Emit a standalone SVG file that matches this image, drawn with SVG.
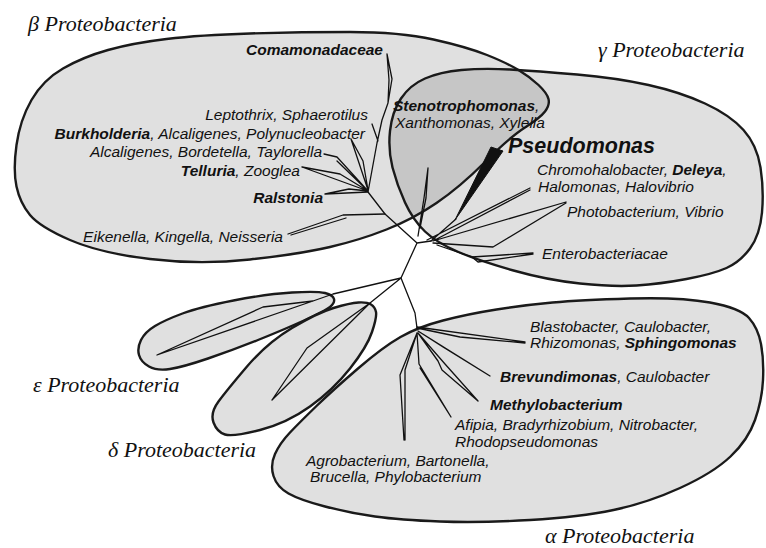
<svg xmlns="http://www.w3.org/2000/svg" width="766" height="548" viewBox="0 0 766 548">
<style>
.region{fill:#e0e0e0;stroke:#1a1a1a;stroke-width:2.4;stroke-linejoin:round}
.overlap{fill:#c6c6c6;stroke:none}
.edge{fill:none;stroke:#1a1a1a;stroke-width:2.4}
.br{fill:none;stroke:#111;stroke-width:1.3;stroke-linejoin:round;stroke-linecap:round}
.lab{font-family:"Liberation Sans",Arial,sans-serif;font-style:italic;font-size:15.5px;fill:#111}
.b{font-weight:bold}
.grp{font-family:"Liberation Serif","Times New Roman",serif;font-style:italic;font-size:22px;fill:#111}
</style>
<defs>
<path id="betaP" d="M 16.5,145 Q 20,120 31.5,100 Q 43,80 63,68.5 Q 83,57 108,50 Q 133,43 166.5,39 Q 200,35 250,33.5 Q 300,32 350,32 Q 400,32 433.5,39.5 Q 467,47 487,55 Q 507,63 518.5,70 Q 530,77 538.5,85 Q 547,93 548.5,99 Q 550,105 545,111.5 Q 540,118 525,127.5 Q 510,137 485,162 Q 460,187 436.5,203 Q 413,219 386.5,229.5 Q 360,240 330,247 Q 300,254 250,259.5 Q 200,265 150,259 Q 100,253 70,240 Q 40,227 30,215 Q 20,203 16.5,186.5 Q 13,170 16.5,145 Z"/>
<path id="gammaP" d="M 390,131 Q 392,112 401,98.5 Q 410,85 425,78.5 Q 440,72 461.5,70 Q 483,68 510,69.5 Q 537,71 577,74.5 Q 617,78 648.5,85 Q 680,92 705,103.5 Q 730,115 743.5,130 Q 757,145 760.5,167.5 Q 764,190 762,212.5 Q 760,235 750,248.5 Q 740,262 726.5,268 Q 713,274 686.5,279 Q 660,284 636.5,285.5 Q 613,287 580,283.5 Q 547,280 513.5,270.5 Q 480,261 458.5,252 Q 437,243 425,231.5 Q 413,220 405,202.5 Q 397,185 392.5,167.5 Q 388,150 390,131 Z"/>
<clipPath id="clipGamma"><use href="#gammaP"/></clipPath>
</defs>
<rect width="766" height="548" fill="#ffffff"/>

<g id="beta">
<use href="#betaP" class="region"/>
<text class="grp" x="28" y="31">β Proteobacteria</text>
</g>

<g id="gamma">
<use href="#gammaP" class="region" style="stroke:none"/>
<use href="#betaP" class="overlap" clip-path="url(#clipGamma)"/>
<use href="#gammaP" class="edge"/>
<use href="#betaP" class="edge" clip-path="url(#clipGamma)"/>
<text class="grp" x="598" y="57">γ Proteobacteria</text>
</g>

<g id="epsilon">
<path class="region" d="M 141,340 Q 145,332 155,326 Q 165,320 182.5,313.5 Q 200,307 233.5,300.5 Q 267,294 292,292.5 Q 317,291 325,293 Q 333,295 334,299 Q 335,303 330,307 Q 325,311 304,320.5 Q 283,330 258,340 Q 233,350 208,358.5 Q 183,367 170,369 Q 157,371 149,366.5 Q 141,362 139,355 Q 137,348 141,340 Z"/>
<text class="grp" x="33" y="392">ε Proteobacteria</text>
</g>

<g id="delta">
<path class="region" d="M 371,304.5 Q 375,307 376,312 Q 377,317 372,332 Q 367,347 350,368.5 Q 333,390 310,406.5 Q 287,423 260,430 Q 233,437 225,434.5 Q 217,432 213.5,422.5 Q 210,413 218.5,401.5 Q 227,390 247,366.5 Q 267,343 292,328 Q 317,313 333.5,308 Q 350,303 358.5,302.5 Q 367,302 371,304.5 Z"/>
<text class="grp" x="108" y="457">δ Proteobacteria</text>
</g>

<g id="alpha">
<path class="region" d="M 275,454 Q 280,443 290,432.5 Q 300,422 316.5,406 Q 333,390 358,368.5 Q 383,347 400.5,337 Q 418,327 443,320.5 Q 468,314 496.5,309.5 Q 525,305 552.5,302.5 Q 580,300 630,298.5 Q 680,297 710,302.5 Q 740,308 749,318 Q 758,328 761,344 Q 764,360 763,380 Q 762,400 755,420 Q 748,440 730.5,456.5 Q 713,473 680,488 Q 647,503 613.5,510 Q 580,517 530,520 Q 480,523 440,521.5 Q 400,520 375,516.5 Q 350,513 325,506.5 Q 300,500 288.5,493.5 Q 277,487 273.5,476 Q 270,465 275,454 Z"/>
<text class="grp" x="545" y="543">α Proteobacteria</text>
</g>

<g id="connectors">
<path class="br" d="M368,192 L385,214 L417,243 M417,243 L431,241 M417,243 L401,278 M401,278 L415,313 L417,328"/>
<path class="br" d="M368,192 L377,143 L382,120 L388,103 M387,54 L392,79 L388,103 M387,54 L389,80 L388,103 M372,124 L378,141 M351,139 L363,161 L368,190 M351,139 L368,190 M324,154 L337,157 L368,191 M337,161 L368,191 M302,167 L340,174 L368,191 M302,167 L368,191 M325,194 L349,189 L368,191 M325,194 L368,192 M288,234 L343,215 L385,214 M291,235 L346,218"/>
<path class="br" d="M428,168 L424,198 L418,236 M428,168 L426,198 L420,228 M431,241 L456,219 M427,240 L530,188 M433,241 L530,190 M433,241 L566,202 M433,243 L493,247 L566,203 M437,245 L472,257 L533,253 M472,257 L478,262 L533,254"/>
<polygon points="455,220 491,147 503,151" fill="#111" stroke="#111" stroke-width="1" stroke-linejoin="round"/>
<path class="br" d="M401,278 L333,294 L313,301 L263,307 L157,355 M313,301 L157,355 M401,278 L370,303 L307,348 L272,400 M370,303 L272,400"/>
<path class="br" d="M417,327 L525,342 M417,328 L460,337 L525,343 M418,331 L490,376 M418,331 L443,347 L490,376 M418,333 L438,361 L442,370 L478,401 M418,333 L445,364 L478,401 M417,333 L419,364 L451,417 M420,368 L451,417 M417,333 L400,375 L404,440 M417,333 L405,370 L405,440"/>
</g>

<g id="labels-beta" class="lab">
<text x="383" y="55" text-anchor="end" class="b">Comamonadaceae</text>
<text x="368" y="120" text-anchor="end">Leptothrix, Sphaerotilus</text>
<text x="365" y="139" text-anchor="end"><tspan class="b">Burkholderia</tspan>, Alcaligenes, Polynucleobacter</text>
<text x="322" y="157" text-anchor="end">Alcaligenes, Bordetella, Taylorella</text>
<text x="300" y="176" text-anchor="end"><tspan class="b">Telluria</tspan>, Zooglea</text>
<text x="323" y="203" text-anchor="end" class="b">Ralstonia</text>
<text x="283" y="242" text-anchor="end">Eikenella, Kingella, Neisseria</text>
</g>
<g id="labels-gamma" class="lab">
<text x="393" y="111"><tspan class="b">Stenotrophomonas</tspan>,</text>
<text x="395" y="128">Xanthomonas, Xylella</text>
<text x="508" y="153" class="b" style="font-size:21.5px">Pseudomonas</text>
<text x="537" y="175">Chromohalobacter, <tspan class="b">Deleya</tspan>,</text>
<text x="538" y="192">Halomonas, Halovibrio</text>
<text x="567" y="217">Photobacterium, Vibrio</text>
<text x="542" y="259">Enterobacteriacae</text>
</g>
<g id="labels-alpha" class="lab">
<text x="530" y="332">Blastobacter, Caulobacter,</text>
<text x="530" y="348">Rhizomonas, <tspan class="b">Sphingomonas</tspan></text>
<text x="500" y="382"><tspan class="b">Brevundimonas</tspan>, Caulobacter</text>
<text x="490" y="410" class="b">Methylobacterium</text>
<text x="455" y="430">Afipia, Bradyrhizobium, Nitrobacter,</text>
<text x="455" y="447">Rhodopseudomonas</text>
<text x="306" y="466">Agrobacterium, Bartonella,</text>
<text x="310" y="482">Brucella, Phylobacterium</text>
</g>
</svg>
